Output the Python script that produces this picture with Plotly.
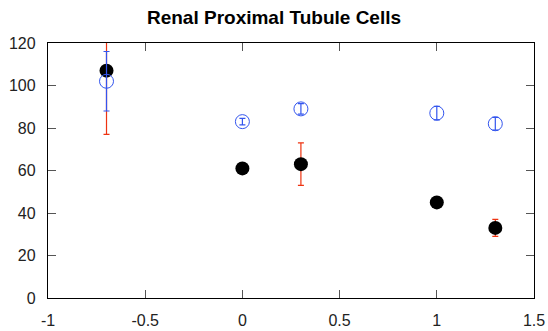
import plotly.graph_objects as go

x_vals = [-0.699, 0.0, 0.301, 1.0, 1.301]
filled_y = [107, 61, 63, 45, 33]
filled_err = [30, 1, 10, 1, 4]
open_y = [102, 83, 89, 87, 82]
open_err = [14, 1.5, 2.5, 3.2, 3]

fig = go.Figure()
fig.add_trace(go.Scatter(
    x=x_vals, y=filled_y, mode="markers",
    marker=dict(color="black", size=14, line=dict(width=0)),
    error_y=dict(type="data", array=filled_err, color="#ee3311", thickness=1.2, width=3),
    showlegend=False, cliponaxis=True,
))
fig.add_trace(go.Scatter(
    x=x_vals, y=open_y, mode="markers",
    marker=dict(symbol="circle-open", color="#3355ee", size=14, line=dict(width=1)),
    error_y=dict(type="data", array=open_err, color="#3355ee", thickness=1.2, width=3),
    showlegend=False, cliponaxis=True,
))

axis_common = dict(
    showgrid=False, zeroline=False, showline=True, linecolor="black", linewidth=1.3,
    mirror="ticks", ticks="inside", ticklen=8, tickcolor="#555", tickwidth=1.3,
    tickfont=dict(family="Liberation Sans, Arial", size=16, color="#222"),
    automargin=False,
)
fig.update_xaxes(range=[-1, 1.5], tickvals=[-1, -0.5, 0, 0.5, 1, 1.5],
                 ticktext=["-1", "-0.5", "0", "0.5", "1", "1.5"], ticklabelstandoff=8, **axis_common)
fig.update_yaxes(range=[0, 120], tickvals=[0, 20, 40, 60, 80, 100, 120], ticklabelstandoff=8, **axis_common)

fig.update_layout(
    width=548, height=331,
    margin=dict(l=48, r=14, t=43, b=33),
    paper_bgcolor="white", plot_bgcolor="white",
    title=dict(text="<b>Renal Proximal Tubule Cells</b>", x=0.5, xanchor="center",
               y=1 - 17 / 331, yanchor="middle",
               font=dict(family="Liberation Sans, Arial", size=19, color="black")),
)
fig.write_html("out.html")
